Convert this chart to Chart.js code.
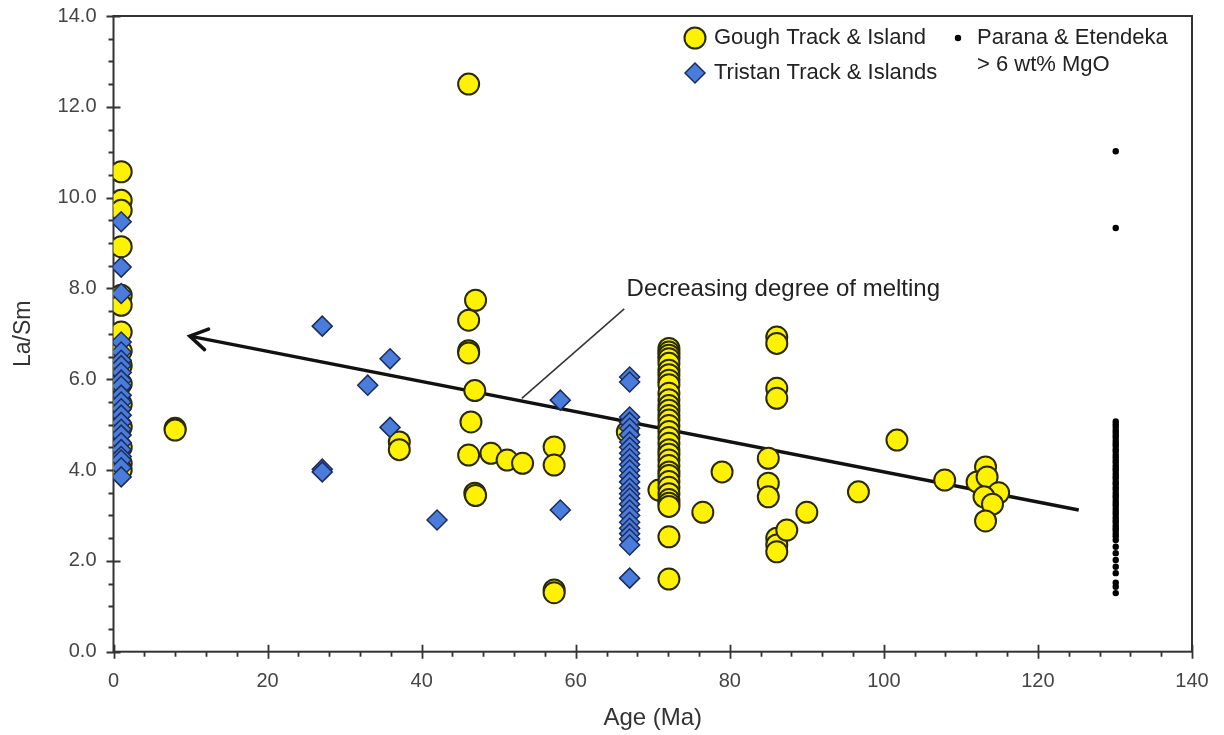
<!DOCTYPE html>
<html>
<head>
<meta charset="utf-8">
<script src="https://cdn.jsdelivr.net/npm/chart.js@4"></script>
<style>
  html, body { margin: 0; padding: 0; background: #fff; }
  #wrap { width: 1224px; height: 735px; }
</style>
</head>
<body>
<div id="wrap"><canvas id="chart"></canvas></div>
<script>
const FONT = '"Liberation Sans", Arial, sans-serif';

// Gough Track & Island (yellow circles)
const goughAge = [
  1.0, 1.0, 1.0, 1.0, 1.0, 1.0, 1.0, 1.0, 1.0, 1.0, 1.0, 1.0, 1.0, 1.0, 1.0,
  8.0, 8.0,
  37.1, 37.1,
  46.1, 46.1, 46.1, 46.1, 46.1,
  47.0, 46.9, 46.9, 47.0,
  46.4, 49.0, 51.1, 53.1,
  57.2, 57.2, 57.2, 57.2,
  66.7, 70.8,
  72.1, 72.1, 72.1, 72.1, 72.1, 72.1, 72.1, 72.1, 72.1, 72.1, 72.1,
  72.1, 72.1, 72.1, 72.1, 72.1, 72.1, 72.1, 72.1, 72.1, 72.1, 72.1,
  72.1, 72.1, 72.1, 72.1, 72.1, 72.1, 72.1, 72.1, 72.1, 72.1, 72.1,
  76.5, 79.0,
  85.0, 85.0, 85.0,
  86.1, 86.1, 86.1, 86.1, 86.1, 86.1, 86.1,
  87.4, 90.0, 96.7, 101.7, 107.9,
  113.2, 112.1, 113.4, 114.9, 113.0, 114.1, 113.2
];
const goughRatio = [
  10.57, 9.94, 9.72, 8.92, 7.85, 7.63, 7.04, 6.62, 6.30, 5.90, 5.45, 4.95, 4.50, 4.15, 4.00,
  4.92, 4.88,
  4.62, 4.45,
  12.50, 7.30, 6.63, 6.58, 4.33,
  7.74, 5.75, 3.49, 3.44,
  5.06, 4.37, 4.22, 4.15,
  4.51, 4.11, 1.36, 1.30,
  4.84, 3.56,
  6.68, 6.60, 6.53, 6.45, 6.35, 6.20, 6.10, 5.98, 5.88, 5.69, 5.55,
  5.42, 5.32, 5.20, 5.10, 4.98, 4.85, 4.72, 4.59, 4.45, 4.35, 4.22,
  4.10, 3.96, 3.88, 3.75, 3.62, 3.48, 3.35, 3.27, 3.20, 2.53, 1.60,
  3.07, 3.96,
  4.26, 3.71, 3.41,
  6.93, 6.79, 5.80, 5.58, 2.50, 2.35, 2.20,
  2.68, 3.07, 3.52, 4.66, 3.78,
  4.07, 3.74, 3.85, 3.50, 3.41, 3.25, 2.88
];

// Tristan Track & Islands (blue diamonds)
const tristanAge = [
  1.0, 1.0, 1.0, 1.0, 1.0, 1.0, 1.0, 1.0, 1.0, 1.0, 1.0, 1.0,
  1.0, 1.0, 1.0, 1.0, 1.0, 1.0, 1.0, 1.0, 1.0, 1.0, 1.0,
  27.1, 27.1, 27.1,
  33.0, 35.9, 35.9, 42.0, 58.0, 58.0,
  67.0, 67.0, 67.0, 67.0, 67.0, 67.0, 67.0, 67.0, 67.0, 67.0, 67.0, 67.0, 67.0,
  67.0, 67.0, 67.0, 67.0, 67.0, 67.0, 67.0, 67.0, 67.0, 67.0, 67.0, 67.0, 67.0
];
const tristanRatio = [
  9.47, 8.47, 7.89, 6.82, 6.60, 6.42, 6.30, 6.15, 5.98, 5.85, 5.65, 5.50,
  5.35, 5.21, 5.05, 4.90, 4.77, 4.60, 4.45, 4.30, 4.22, 4.05, 3.85,
  7.17, 4.02, 3.96,
  5.87, 6.45, 4.94, 2.90, 5.54, 3.12,
  6.05, 5.94, 5.17, 5.05, 4.92, 4.78, 4.62, 4.50, 4.37, 4.25, 4.12, 4.00, 3.87,
  3.74, 3.60, 3.48, 3.38, 3.25, 3.12, 3.00, 2.85, 2.72, 2.60, 2.48, 2.35, 1.62
];

// Parana & Etendeka > 6 wt% MgO (small black dots, all at one age)
const paranaAge = 130.1;
const paranaRatio = [
  11.02, 9.33,
  5.07, 5.01, 4.95, 4.88, 4.83, 4.76, 4.71, 4.64, 4.58, 4.53, 4.46, 4.41,
  4.34, 4.28, 4.22, 4.17, 4.10, 4.04, 3.99, 3.92, 3.86, 3.81, 3.74, 3.69,
  3.62, 3.57, 3.50, 3.44, 3.39, 3.32, 3.26, 3.21, 3.14, 3.08, 3.03, 2.96,
  2.90, 2.85, 2.78, 2.72, 2.67, 2.60, 2.54, 2.46, 2.31, 2.17, 2.02, 1.87,
  1.73, 1.52, 1.43, 1.29
];

// trend arrow and the label's leader line
const arrowAge = [9.9, 125.3];
const arrowRatio = [6.95, 3.12];
const leaderAge = [53.0, 66.3];
const leaderRatio = [5.58, 7.55];
const noteText = 'Decreasing degree of melting';
const noteAt = [66.6, 7.97];

const xTicks = [0, 20, 40, 60, 80, 100, 120, 140];
const yTicks = [0, 2, 4, 6, 8, 10, 12, 14];

const YELLOW = '#FFF200', YELLOW_EDGE = '#2a2a00';
const BLUE = '#4A7CDC', BLUE_EDGE = '#1c2c5c';

const toPoints = (xs, ys) => ys.map((v, i) => ({x: xs[i], y: v}));

// frame and tick marks, under the markers
const framePlugin = {
  id: 'frame',
  beforeDatasetsDraw(chart) {
    const {ctx, chartArea: a, scales: {x, y}} = chart;
    ctx.save();
    ctx.strokeStyle = '#333';
    ctx.lineWidth = 2;
    ctx.strokeRect(a.left, a.top, a.right - a.left, a.bottom - a.top);
    ctx.beginPath();
    for (let v = 0; v <= 140; v += 4) {
      const px = Math.round(x.getPixelForValue(v)) + 0.5;
      const major = v % 20 === 0;
      ctx.moveTo(px, major ? a.bottom - 7 : a.bottom);
      ctx.lineTo(px, a.bottom + (major ? 7 : 5));
    }
    for (let k = 0; k <= 28; k++) {
      const py = Math.round(y.getPixelForValue(k / 2)) + 0.5;
      const major = k % 4 === 0;
      ctx.moveTo(a.left - (major ? 7 : 5), py);
      ctx.lineTo(major ? a.left + 7 : a.left, py);
    }
    ctx.lineWidth = 1.8;
    ctx.stroke();
    ctx.restore();
  }
};

// arrowhead, note text and legend
const notePlugin = {
  id: 'note',
  afterDraw(chart) {
    const {ctx, scales: {x, y}} = chart;
    ctx.save();
    // arrowhead at the young end
    const tx = x.getPixelForValue(arrowAge[0]), ty = y.getPixelForValue(arrowRatio[0]);
    const ex = x.getPixelForValue(arrowAge[1]), ey = y.getPixelForValue(arrowRatio[1]);
    const ang = Math.atan2(ey - ty, ex - tx);
    ctx.strokeStyle = '#111';
    ctx.lineWidth = 3.5;
    ctx.lineCap = 'round';
    ctx.beginPath();
    ctx.moveTo(tx + 20 * Math.cos(ang - 0.55), ty + 20 * Math.sin(ang - 0.55));
    ctx.lineTo(tx, ty);
    ctx.lineTo(tx + 20 * Math.cos(ang + 0.55), ty + 20 * Math.sin(ang + 0.55));
    ctx.stroke();

    ctx.fillStyle = '#222';
    ctx.font = '24px ' + FONT;
    ctx.textBaseline = 'middle';
    ctx.textAlign = 'left';
    ctx.fillText(noteText, x.getPixelForValue(noteAt[0]), y.getPixelForValue(noteAt[1]));

    // legend
    const draw = Chart.helpers.drawPoint;
    ctx.lineWidth = 2;
    ctx.fillStyle = YELLOW; ctx.strokeStyle = YELLOW_EDGE;
    draw(ctx, {pointStyle: 'circle', radius: 10.5, borderWidth: 2}, 695, 38);
    ctx.lineWidth = 1.5;
    ctx.fillStyle = BLUE; ctx.strokeStyle = BLUE_EDGE;
    draw(ctx, {pointStyle: 'rectRot', radius: 10, borderWidth: 1.5}, 695, 73);
    ctx.fillStyle = '#000'; ctx.strokeStyle = '#000';
    draw(ctx, {pointStyle: 'circle', radius: 3.2, borderWidth: 0}, 958, 38);
    ctx.fillStyle = '#222';
    ctx.font = '22px ' + FONT;
    ctx.fillText('Gough Track & Island', 714, 38);
    ctx.fillText('Tristan Track & Islands', 714, 73);
    ctx.fillText('Parana & Etendeka', 977, 38);
    ctx.fillText('> 6 wt% MgO', 977, 65);
    ctx.restore();
  }
};

new Chart(document.getElementById('chart'), {
  type: 'scatter',
  data: {
    datasets: [
      {
        label: 'Tristan Track & Islands',
        data: toPoints(tristanAge, tristanRatio),
        pointStyle: 'rectRot', pointRadius: 10,
        backgroundColor: BLUE, borderColor: BLUE_EDGE, borderWidth: 1.5,
        order: 0
      },
      {
        label: 'Gough Track & Island',
        data: toPoints(goughAge, goughRatio),
        pointStyle: 'circle', pointRadius: 10.5,
        backgroundColor: YELLOW, borderColor: YELLOW_EDGE, borderWidth: 2,
        order: 1
      },
      {
        label: 'Parana & Etendeka',
        data: paranaRatio.map(v => ({x: paranaAge, y: v})),
        pointStyle: 'circle', pointRadius: 3.2,
        backgroundColor: '#000', borderColor: '#000', borderWidth: 0,
        order: 2
      },
      {
        label: 'trend',
        data: toPoints(arrowAge, arrowRatio),
        showLine: true, pointRadius: 0,
        borderColor: '#111', borderWidth: 3.5,
        order: 3
      },
      {
        label: 'leader',
        data: toPoints(leaderAge, leaderRatio),
        showLine: true, pointRadius: 0,
        borderColor: '#333', borderWidth: 1.5,
        order: 4
      }
    ]
  },
  options: {
    responsive: true,
    maintainAspectRatio: false,
    animation: false,
    layout: { autoPadding: false, padding: { left: 0, top: 16, right: 32, bottom: 0 } },
    plugins: { legend: { display: false }, tooltip: { enabled: false } },
    scales: {
      x: {
        type: 'linear', min: 0, max: 140,
        afterFit: s => { s.height = 83.3; s.paddingLeft = 0; s.paddingRight = 0; },
        afterBuildTicks: s => { s.ticks = xTicks.map(v => ({value: v})); },
        grid: { display: false, drawTicks: false },
        border: { display: false },
        ticks: { padding: 18, color: '#444', font: { family: FONT, size: 20 }, maxRotation: 0 },
        title: { display: true, text: 'Age (Ma)', color: '#333', font: { family: FONT, size: 24 }, padding: { top: 0, bottom: 2 } }
      },
      y: {
        type: 'linear', min: 0, max: 14,
        afterFit: s => { s.width = 113.5; s.paddingTop = 0; s.paddingBottom = 0; },
        afterBuildTicks: s => { s.ticks = yTicks.map(v => ({value: v})); },
        grid: { display: false, drawTicks: false },
        border: { display: false },
        ticks: { padding: 17, color: '#444', font: { family: FONT, size: 20 }, callback: v => v.toFixed(1) },
        title: { display: true, text: 'La/Sm', color: '#333', font: { family: FONT, size: 23 }, padding: { top: 10, bottom: 0 } }
      }
    }
  },
  plugins: [framePlugin, notePlugin]
});
</script>
</body>
</html>
